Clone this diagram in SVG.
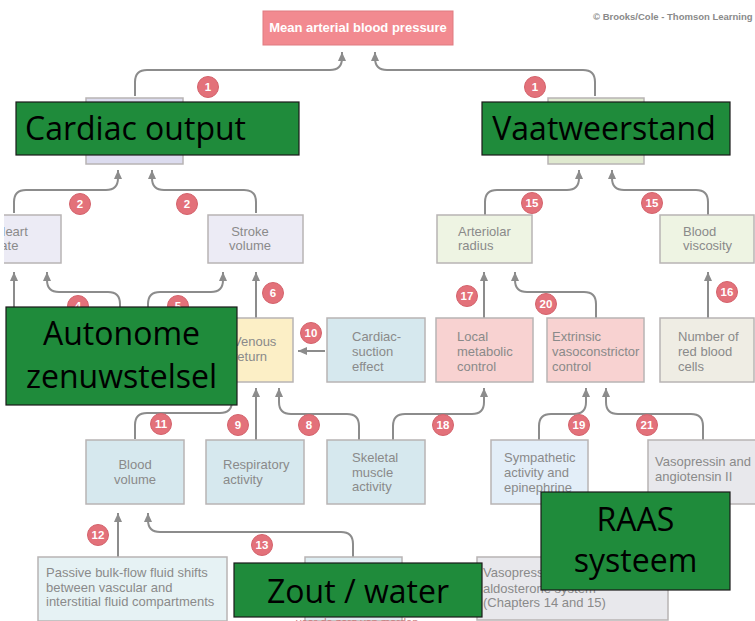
<svg xmlns="http://www.w3.org/2000/svg" width="755" height="621" viewBox="0 0 755 621">
<defs>
<marker id="ah" viewBox="0 0 8 10" refX="9" refY="4" markerWidth="8" markerHeight="10" markerUnits="userSpaceOnUse" orient="auto">
<path d="M0,0 L9,4 L0,8 z" fill="#8c8c8c"/>
</marker>
<clipPath id="clipL"><rect x="4" y="0" width="751" height="621"/></clipPath>
<style>
.box{stroke:#b8b4b4;stroke-width:1.5}
.t{font-family:"Liberation Sans",Arial,sans-serif;font-size:13px;fill:#8a8a8a}
.m{text-anchor:middle}
.conn path{fill:none;stroke:#8c8c8c;stroke-width:2;marker-end:url(#ah)}
.badge circle{fill:#e3717a;stroke:#d4636c;stroke-width:1}
.badge text{font-family:"Liberation Sans",Arial,sans-serif;font-size:11.5px;font-weight:bold;fill:#fff;text-anchor:middle}
.ov rect{fill:#1f8b3b;stroke:#1a1a1a;stroke-width:1.2}
.ov text{font-family:"Open Sans",sans-serif;font-size:32px;fill:#000}
</style>
</defs>
<rect width="755" height="621" fill="#fff"/>

<text x="593" y="20" style="font-family:'Liberation Sans',Arial,sans-serif;font-size:9.5px;font-weight:bold;fill:#8a8a8a">© Brooks/Cole - Thomson Learning</text>

<g id="connectors" class="conn">
<path d="M135,96 V82 Q135,70 147,70 H330 Q342,70 342,58 V52"/>
<path d="M595,96 V82 Q595,70 583,70 H387 Q375,70 375,58 V52"/>
<path d="M14,213 V202 Q14,190 26,190 H106 Q118,190 118,178 V170"/>
<path d="M256,213 V202 Q256,190 244,190 H164 Q152,190 152,178 V170"/>
<path d="M14,310 V272"/>
<path d="M120,310 V304 Q120,292 108,292 H59 Q47,292 47,280 V272"/>
<path d="M148,310 V304 Q148,292 160,292 H211 Q223,292 223,280 V272"/>
<path d="M256,318 V272"/>
<path d="M325,351 H298"/>
<path d="M256,440 V388"/>
<path d="M359,440 V426 Q359,414 347,414 H291 Q279,414 279,402 V388"/>
<path d="M135,439 V425 Q135,413 147,413 H220 Q232,413 232,401 V388"/>
<path d="M485,215 V202 Q485,190 497,190 H567 Q579,190 579,178 V170"/>
<path d="M708,215 V202 Q708,190 696,190 H624 Q612,190 612,178 V170"/>
<path d="M484,318 V272"/>
<path d="M596,318 V304 Q596,292 584,292 H527 Q515,292 515,280 V272"/>
<path d="M708,318 V272"/>
<path d="M393,440 V426 Q393,414 405,414 H472 Q484,414 484,402 V388"/>
<path d="M539,440 V426 Q539,414 551,414 H574 Q586,414 586,402 V388"/>
<path d="M703,440 V426 Q703,414 691,414 H618 Q606,414 606,402 V388"/>
<path d="M118,557 V513"/>
<path d="M353,557 V544 Q353,532 341,532 H160 Q148,532 148,520 V513"/>
<g class="badge">
<circle cx="208" cy="87" r="10.5"/><text x="208" y="91">1</text>
<circle cx="535" cy="87" r="10.5"/><text x="535" y="91">1</text>
<circle cx="80" cy="204" r="10.5"/><text x="80" y="208">2</text>
<circle cx="187" cy="204" r="10.5"/><text x="187" y="208">2</text>
<circle cx="78" cy="306" r="10.5"/><text x="78" y="310">4</text>
<circle cx="178" cy="306" r="10.5"/><text x="178" y="310">5</text>
<circle cx="273" cy="293" r="10.5"/><text x="273" y="297">6</text>
<circle cx="311" cy="333" r="10.5"/><text x="311" y="337">10</text>
<circle cx="161" cy="424" r="10.5"/><text x="161" y="428">11</text>
<circle cx="238" cy="425" r="10.5"/><text x="238" y="429">9</text>
<circle cx="309" cy="425" r="10.5"/><text x="309" y="429">8</text>
<circle cx="98" cy="535" r="10.5"/><text x="98" y="539">12</text>
<circle cx="262" cy="545" r="10.5"/><text x="262" y="549">13</text>
<circle cx="532" cy="203" r="10.5"/><text x="532" y="207">15</text>
<circle cx="652" cy="203" r="10.5"/><text x="652" y="207">15</text>
<circle cx="467" cy="296" r="10.5"/><text x="467" y="300">17</text>
<circle cx="546" cy="304" r="10.5"/><text x="546" y="308">20</text>
<circle cx="727" cy="292" r="10.5"/><text x="727" y="296">16</text>
<circle cx="443" cy="425" r="10.5"/><text x="443" y="429">18</text>
<circle cx="579" cy="425" r="10.5"/><text x="579" y="429">19</text>
<circle cx="647" cy="425" r="10.5"/><text x="647" y="429">21</text>
</g>
</g>

<g id="map">
<rect x="263" y="11" width="190" height="34" fill="#f28a90" stroke="#e07a80" stroke-width="1"/>
<text x="358" y="32" text-anchor="middle" style="font-family:'Liberation Sans',Arial,sans-serif;font-size:13px;font-weight:bold;fill:#fff">Mean arterial blood pressure</text>
</g>

<g id="cardiac-output-box"><rect class="box" x="86" y="98" width="97" height="66" fill="#dcdcef"/></g>
<g id="vascular-resistance-box"><rect class="box" x="548" y="98" width="96" height="66" fill="#dfe9cf"/></g>

<g id="heart-rate" clip-path="url(#clipL)">
<rect class="box" x="-40" y="215" width="101" height="48" fill="#ecebf5"/>
<text class="t" x="-4" y="236">Heart</text>
<text class="t" x="-4" y="250">rate</text>
</g>
<g id="stroke-volume">
<rect class="box" x="208" y="215" width="95" height="48" fill="#ecebf5"/>
<text class="t m" x="250" y="236">Stroke</text>
<text class="t m" x="250" y="250">volume</text>
</g>
<g id="arteriolar-radius">
<rect class="box" x="437" y="215" width="95" height="48" fill="#eef4e3"/>
<text class="t" x="458" y="236">Arteriolar</text>
<text class="t" x="458" y="250">radius</text>
</g>
<g id="blood-viscosity">
<rect class="box" x="660" y="215" width="94" height="48" fill="#eef4e3"/>
<text class="t" x="683" y="236">Blood</text>
<text class="t" x="683" y="250">viscosity</text>
</g>

<g id="venous-return">
<rect class="box" x="222" y="318" width="71" height="64" fill="#fcefc6"/>
<text class="t" x="233" y="346">Venous</text>
<text class="t" x="233" y="361">return</text>
</g>
<g id="cardiac-suction">
<rect class="box" x="327" y="318" width="98" height="64" fill="#d6e8ee"/>
<text class="t" x="352" y="341">Cardiac-</text>
<text class="t" x="352" y="356">suction</text>
<text class="t" x="352" y="371">effect</text>
</g>
<g id="local-metabolic">
<rect class="box" x="436" y="318" width="97" height="64" fill="#f8d2d1"/>
<text class="t" x="457" y="341">Local</text>
<text class="t" x="457" y="356">metabolic</text>
<text class="t" x="457" y="371">control</text>
</g>
<g id="extrinsic">
<rect class="box" x="547" y="318" width="97" height="64" fill="#f8d2d1"/>
<text class="t" x="552" y="341">Extrinsic</text>
<text class="t" x="552" y="356">vasoconstrictor</text>
<text class="t" x="552" y="371">control</text>
</g>
<g id="rbc">
<rect class="box" x="660" y="318" width="94" height="64" fill="#efede4"/>
<text class="t" x="678" y="341">Number of</text>
<text class="t" x="678" y="356">red blood</text>
<text class="t" x="678" y="371">cells</text>
</g>

<g id="blood-volume">
<rect class="box" x="86" y="440" width="98" height="64" fill="#d6e8ee"/>
<text class="t m" x="135" y="469">Blood</text>
<text class="t m" x="135" y="484">volume</text>
</g>
<g id="respiratory">
<rect class="box" x="206" y="440" width="98" height="64" fill="#d6e8ee"/>
<text class="t" x="223" y="469">Respiratory</text>
<text class="t" x="223" y="484">activity</text>
</g>
<g id="skeletal">
<rect class="box" x="327" y="440" width="98" height="64" fill="#d6e8ee"/>
<text class="t" x="352" y="462">Skeletal</text>
<text class="t" x="352" y="477">muscle</text>
<text class="t" x="352" y="491">activity</text>
</g>
<g id="sympathetic">
<rect class="box" x="491" y="440" width="97" height="64" fill="#e3eef8"/>
<text class="t" x="504" y="462">Sympathetic</text>
<text class="t" x="504" y="477">activity and</text>
<text class="t" x="504" y="492">epinephrine</text>
</g>
<g id="vasopressin">
<rect class="box" x="648" y="440" width="112" height="64" fill="#e8e8ec"/>
<text class="t" x="655" y="466">Vasopressin and</text>
<text class="t" x="655" y="481">angiotensin II</text>
</g>

<g id="passive-bulk-flow">
<rect class="box" x="38" y="557" width="189" height="64" fill="#e6f2f4"/>
<text class="t" x="46" y="577">Passive bulk-flow fluid shifts</text>
<text class="t" x="46" y="592">between vascular and</text>
<text class="t" x="46" y="606">interstitial fluid compartments</text>
</g>
<g id="salt-water-box">
<rect class="box" x="305" y="557" width="97" height="64" fill="#deedf2"/>
</g>
<g id="raas-box">
<rect class="box" x="477" y="557" width="191" height="63" fill="#e8e8ec"/>
<text class="t" x="483" y="577">Vasopressin-renin-angiotensin-</text>
<text class="t" x="483" y="593">aldosterone system</text>
<text class="t" x="483" y="607">(Chapters 14 and 15)</text>
</g>
<text x="296" y="626" style="font-family:'Liberation Sans',Arial,sans-serif;font-size:11px;fill:#c87c7c">voor de zorg van marden</text>

<g id="overlay-cardiac-output" class="ov">
<rect x="16" y="102" width="283" height="53"/>
<text x="25" y="140">Cardiac output</text>
</g>
<g id="overlay-vaatweerstand" class="ov">
<rect x="482" y="102" width="248" height="53"/>
<text x="604" y="140" text-anchor="middle">Vaatweerstand</text>
</g>
<g id="overlay-autonome" class="ov">
<rect x="6" y="307" width="231" height="98"/>
<text x="121.5" y="345" text-anchor="middle">Autonome</text>
<text x="121.5" y="388" text-anchor="middle">zenuwstelsel</text>
</g>
<g id="overlay-raas" class="ov">
<rect x="541" y="492" width="189" height="98"/>
<text x="635.5" y="531" text-anchor="middle">RAAS</text>
<text x="635.5" y="572" text-anchor="middle">systeem</text>
</g>
<g id="overlay-zout" class="ov">
<rect x="234" y="563" width="248" height="54"/>
<text x="358" y="603" text-anchor="middle">Zout / water</text>
</g>
</svg>
